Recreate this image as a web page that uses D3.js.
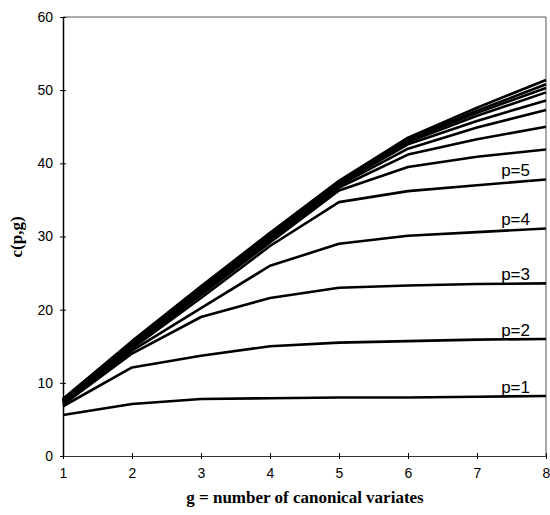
<!DOCTYPE html>
<html>
<head>
<meta charset="utf-8">
<script src="https://cdn.jsdelivr.net/npm/d3@7"></script>
<style>
  html, body { margin: 0; padding: 0; background: #fff; }
  svg { display: block; }
</style>
</head>
<body>
<svg id="chart" width="550" height="515"></svg>
<script>
// number of canonical variates
const gValues = [1, 2, 3, 4, 5, 6, 7, 8];
// y-axis ticks
const yTicks = [0, 10, 20, 30, 40, 50, 60];

// c(p,g) for p = 1 .. 13, one array per p (values at g = 1..8)
const c_p1  = [5.6, 7.1, 7.8, 7.9, 8.0, 8.0, 8.1, 8.2];
const c_p2  = [6.8, 12.1, 13.7, 15.0, 15.5, 15.7, 15.9, 16.0];
const c_p3  = [7.0, 14.0, 19.0, 21.6, 23.0, 23.3, 23.5, 23.6];
const c_p4  = [7.2, 14.4, 20.2, 26.0, 29.0, 30.1, 30.6, 31.1];
const c_p5  = [7.3, 14.7, 21.6, 28.7, 34.7, 36.2, 37.0, 37.8];
const c_p6  = [7.4, 14.9, 22.0, 29.2, 36.3, 39.5, 40.9, 41.9];
const c_p7  = [7.5, 15.0, 22.3, 29.5, 36.7, 41.2, 43.3, 45.0];
const c_p8  = [7.6, 15.2, 22.5, 29.8, 37.0, 42.0, 44.9, 47.3];
const c_p9  = [7.6, 15.3, 22.7, 30.0, 37.2, 42.6, 45.8, 48.6];
const c_p10 = [7.7, 15.4, 22.9, 30.2, 37.3, 42.9, 46.5, 49.7];
const c_p11 = [7.7, 15.5, 23.0, 30.3, 37.4, 43.1, 46.9, 50.3];
const c_p12 = [7.8, 15.6, 23.1, 30.4, 37.5, 43.3, 47.2, 50.8];
const c_p13 = [7.8, 15.7, 23.2, 30.5, 37.6, 43.5, 47.6, 51.4];

const seriesValues = [c_p1, c_p2, c_p3, c_p4, c_p5, c_p6, c_p7, c_p8, c_p9, c_p10, c_p11, c_p12, c_p13];
// curves that carry a label at their right end
const labels = ["p=1", "p=2", "p=3", "p=4", "p=5"];

const svg = d3.select("#chart");
const plotLeft = 63, plotRight = 546, plotTop = 17, plotBottom = 456;

const x = d3.scaleLinear().domain([1, 8]).range([plotLeft, plotRight]);
const y = d3.scaleLinear().domain([0, 60]).range([plotBottom, plotTop]);

// frame (top and right sides)
svg.append("path")
  .attr("d", `M${plotLeft},${plotTop}H${plotRight}V${plotBottom}`)
  .attr("fill", "none").attr("stroke", "#555").attr("stroke-width", 1);

// axes
const yAxis = d3.axisLeft(y).tickValues(yTicks).tickSize(0).tickPadding(10);
const gy = svg.append("g").attr("transform", `translate(${plotLeft},0)`).call(yAxis);
gy.select(".domain").attr("stroke", "#000").attr("stroke-width", 1.5);
gy.selectAll("text").attr("font-family", "Liberation Sans, Arial, sans-serif")
  .attr("font-size", 14).attr("fill", "#000");
gy.selectAll(".tick").append("line").attr("x1", -3).attr("x2", 3)
  .attr("stroke", "#000").attr("stroke-width", 1);

const xAxis = d3.axisBottom(x).tickValues(gValues).tickFormat(d3.format("d")).tickSize(0).tickPadding(12);
const gx = svg.append("g").attr("transform", `translate(0,${plotBottom})`).call(xAxis);
gx.select(".domain").attr("stroke", "#333").attr("stroke-width", 1);
gx.selectAll("text").attr("font-family", "Liberation Sans, Arial, sans-serif")
  .attr("font-size", 14).attr("fill", "#000");
gx.selectAll(".tick").append("line").attr("y1", -3).attr("y2", 3)
  .attr("stroke", "#000").attr("stroke-width", 1);

// curves
const line = d3.line().x((d, i) => x(gValues[i])).y(d => y(d));
svg.append("g").selectAll("path")
  .data(seriesValues)
  .join("path")
  .attr("d", line)
  .attr("fill", "none")
  .attr("stroke", "#000")
  .attr("stroke-width", 2.6)
  .attr("stroke-linejoin", "round");

// curve labels
svg.append("g").selectAll("text")
  .data(labels)
  .join("text")
  .attr("x", 530)
  .attr("y", (d, i) => y(seriesValues[i][7]) - 3)
  .attr("text-anchor", "end")
  .attr("font-family", "Liberation Sans, Arial, sans-serif")
  .attr("font-size", 17)
  .attr("fill", "#000")
  .text(d => d);

// axis titles
svg.append("text")
  .attr("x", 305).attr("y", 503)
  .attr("text-anchor", "middle")
  .attr("font-family", "Liberation Serif, Times New Roman, serif")
  .attr("font-weight", "bold").attr("font-size", 17)
  .text("g = number of canonical variates");

svg.append("text")
  .attr("transform", "translate(22,237) rotate(-90)")
  .attr("text-anchor", "middle")
  .attr("font-family", "Liberation Serif, Times New Roman, serif")
  .attr("font-weight", "bold").attr("font-size", 17)
  .text("c(p,g)");
</script>
</body>
</html>
